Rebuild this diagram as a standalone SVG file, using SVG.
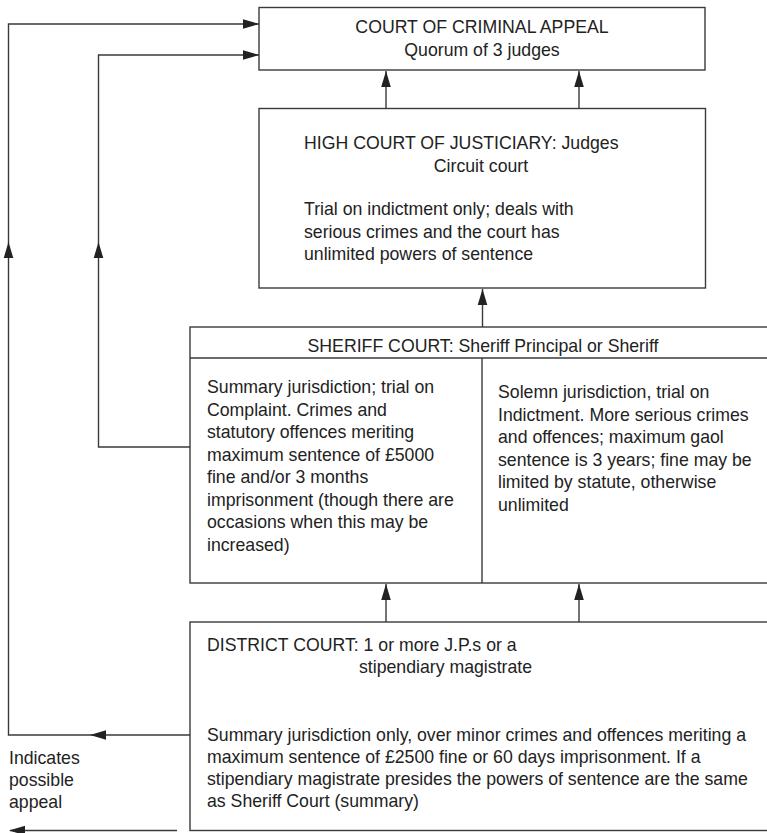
<svg xmlns="http://www.w3.org/2000/svg" xmlns:xlink="http://www.w3.org/1999/xlink" width="767" height="833" viewBox="0 0 767 833">
<style>
  .box { fill: #ffffff; stroke: #3a3a3a; stroke-width: 1.4; }
  .ln { fill: none; stroke: #3a3a3a; stroke-width: 1.4; }
  .t { font-family: "Liberation Sans", Arial, Helvetica, sans-serif; font-size: 17.7px; fill: #222222; }
  .c { text-anchor: middle; }
  .ah { fill: #222222; }
</style>
<defs>
  <path id="ah" d="M0,0 L-16,-4.8 L-16,4.8 Z"/>
</defs>
<rect width="767" height="833" fill="#ffffff"/>

<g id="court-of-criminal-appeal">
  <rect class="box" x="259" y="7.5" width="446" height="62.5"/>
  <text class="t c" x="482" y="33">COURT OF CRIMINAL APPEAL</text>
  <text class="t c" x="482" y="56">Quorum of 3 judges</text>
</g>

<g id="high-court">
  <rect class="box" x="259" y="108.5" width="446.5" height="179.5"/>
  <text class="t" x="304" y="149">HIGH COURT OF JUSTICIARY: Judges</text>
  <text class="t c" x="481" y="172">Circuit court</text>
  <text class="t" x="304" y="215">Trial on indictment only; deals with</text>
  <text class="t" x="304" y="237.5">serious crimes and the court has</text>
  <text class="t" x="304" y="260">unlimited powers of sentence</text>
</g>

<g id="sheriff-court">
  <rect class="box" x="190" y="327" width="600" height="256"/>
  <line class="ln" x1="190" y1="358" x2="790" y2="358"/>
  <line class="ln" x1="482" y1="358" x2="482" y2="583"/>
  <text class="t c" x="483" y="352">SHERIFF COURT: Sheriff Principal or Sheriff</text>
  <text class="t" x="207" y="393">Summary jurisdiction; trial on</text>
  <text class="t" x="207" y="415.5">Complaint. Crimes and</text>
  <text class="t" x="207" y="438">statutory offences meriting</text>
  <text class="t" x="207" y="460.5">maximum sentence of £5000</text>
  <text class="t" x="207" y="483">fine and/or 3 months</text>
  <text class="t" x="207" y="505.5">imprisonment (though there are</text>
  <text class="t" x="207" y="528">occasions when this may be</text>
  <text class="t" x="207" y="550.5">increased)</text>
  <text class="t" x="498" y="398">Solemn jurisdiction, trial on</text>
  <text class="t" x="498" y="420.5">Indictment. More serious crimes</text>
  <text class="t" x="498" y="443">and offences; maximum gaol</text>
  <text class="t" x="498" y="465.5">sentence is 3 years; fine may be</text>
  <text class="t" x="498" y="488">limited by statute, otherwise</text>
  <text class="t" x="498" y="510.5">unlimited</text>
</g>

<g id="district-court">
  <rect class="box" x="190" y="622" width="600" height="208.5"/>
  <text class="t" x="207" y="651">DISTRICT COURT: 1 or more J.P.s or a</text>
  <text class="t" x="359" y="673">stipendiary magistrate</text>
  <text class="t" x="207" y="741">Summary jurisdiction only, over minor crimes and offences meriting a</text>
  <text class="t" x="207" y="763">maximum sentence of £2500 fine or 60 days imprisonment. If a</text>
  <text class="t" x="207" y="785">stipendiary magistrate presides the powers of sentence are the same</text>
  <text class="t" x="207" y="807">as Sheriff Court (summary)</text>
</g>

<g id="legend">
  <text class="t" x="9" y="764">Indicates</text>
  <text class="t" x="9" y="786">possible</text>
  <text class="t" x="9" y="807.5">appeal</text>
</g>

<g id="connectors">
  <path class="ln" d="M190,735 H8.5 V24 H259"/>
  <path class="ln" d="M190,447 H98.5 V55 H259"/>
  <path class="ln" d="M386,108.5 V71"/>
  <path class="ln" d="M579,108.5 V71"/>
  <path class="ln" d="M482.5,327 V289"/>
  <path class="ln" d="M386,622 V584"/>
  <path class="ln" d="M579,622 V584"/>
  <path class="ln" d="M177,830.5 H10"/>
  <use xlink:href="#ah" class="ah" transform="translate(259,24)"/>
  <use xlink:href="#ah" class="ah" transform="translate(259,55)"/>
  <use xlink:href="#ah" class="ah" transform="translate(8.5,242) rotate(-90)"/>
  <use xlink:href="#ah" class="ah" transform="translate(98.5,242) rotate(-90)"/>
  <use xlink:href="#ah" class="ah" transform="translate(90,735) rotate(180)"/>
  <use xlink:href="#ah" class="ah" transform="translate(386,71) rotate(-90)"/>
  <use xlink:href="#ah" class="ah" transform="translate(579,71) rotate(-90)"/>
  <use xlink:href="#ah" class="ah" transform="translate(482.5,289) rotate(-90)"/>
  <use xlink:href="#ah" class="ah" transform="translate(386,584) rotate(-90)"/>
  <use xlink:href="#ah" class="ah" transform="translate(579,584) rotate(-90)"/>
  <use xlink:href="#ah" class="ah" transform="translate(9,830.5) rotate(180)"/>
</g>
</svg>
